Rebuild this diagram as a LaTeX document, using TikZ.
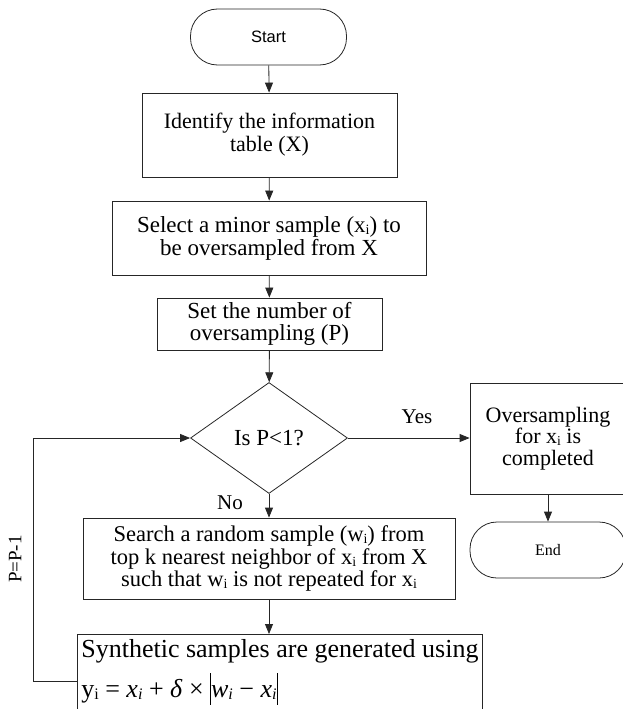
\documentclass[tikz,border=0pt]{standalone}
\usepackage{fontspec}
\usepackage{graphicx}
\setmainfont{Liberation Serif}
\newfontfamily\arialf{Liberation Sans}
\usetikzlibrary{arrows.meta,shapes.geometric}
\newcommand{\sbi}{\raisebox{-0.1em}{\scalebox{0.62}{i}}}
\newcommand{\absbar}{\rule[-0.28em]{0.8pt}{1.2em}}
\colorlet{linec}{black!85}
\tikzset{
  box/.style={draw=linec, line width=0.8pt, inner sep=0pt, align=center},
  term/.style={box, rounded corners=27pt, minimum width=156pt, minimum height=56pt},
  arr/.style={draw=linec, line width=0.8pt, -{Triangle[length=10pt,width=8pt]}},
  fs/.style={font=\fontsize{#1}{#1}\selectfont}
}
\begin{document}
\begin{tikzpicture}[x=1pt,y=-1pt]
\useasboundingbox (0,0) rectangle (622,709);
% nodes
\node[term, font=\arialf\fontsize{16.5}{18}\selectfont] (start) at (268.5,37) {Start};
\node[box, minimum width=255pt, minimum height=84pt, font=\fontsize{22}{23}\selectfont] (b1) at (269.5,135) {Identify the information\\table (X)};
\node[box, minimum width=314pt, minimum height=74pt, font=\fontsize{23}{23}\selectfont] (b2) at (269,238) {Select a minor sample (x\sbi) to\\be oversampled from X};
\node[box, minimum width=225pt, minimum height=52pt, font=\fontsize{23}{22}\selectfont] (b3) at (269.5,324) {Set the number of\\oversampling (P)};
\node[box, shape=diamond, minimum width=157pt, minimum height=111pt, aspect=1.41, font=\fontsize{23}{23}\selectfont] (dia) at (269,438) {Is P<1?};
\node[box, minimum width=156pt, minimum height=111pt, font=\fontsize{22}{21.5}\selectfont] (rb) at (548,438.5) {Oversampling\\for x\sbi{} is\\completed};
\node[term, font=\fontsize{16}{18}\selectfont] (end) at (548,550) {End};
\node[box, minimum width=372pt, minimum height=81pt, font=\fontsize{22.5}{22.5}\selectfont] (srch) at (269,558.5) {Search a random sample (w\sbi) from\\top k nearest neighbor of x\sbi{} from X\\such that w\sbi{} is not repeated for x\sbi};
\node[box, align=left, anchor=north west, minimum width=405pt, minimum height=75pt, inner xsep=3pt, font=\fontsize{26}{40}\selectfont] (bot) at (77,634) {Synthetic samples are generated using\\y\sbi{} = \textit{x\sbi} + \textit{δ} × \absbar\textit{w\sbi} − \textit{x\sbi}\absbar};
% labels
\node[fs=21] (yes) at (417,417) {Yes};
\node[fs=21] (no) at (230,503) {No};
\node[fs=19, rotate=90] (pl) at (15,559) {P=P-1};
\coordinate (lp) at (33,681);
% connectors
\draw[arr] (start) -- (b1);
\draw[arr] (b1) -- (b2);
\draw[arr] (b2) -- (b3);
\draw[arr] (b3) -- (dia);
\draw[arr] (dia.east) -- (rb.west |- dia.east);
\draw[arr] (dia.south) -- (srch.north -| dia.south);
\draw[arr] (rb) -- (end);
\draw[arr] (srch.south) -- (bot.north -| srch.south);
\draw[arr] (bot.west |- lp) -- (lp) |- (dia.west);
\end{tikzpicture}
\end{document}
